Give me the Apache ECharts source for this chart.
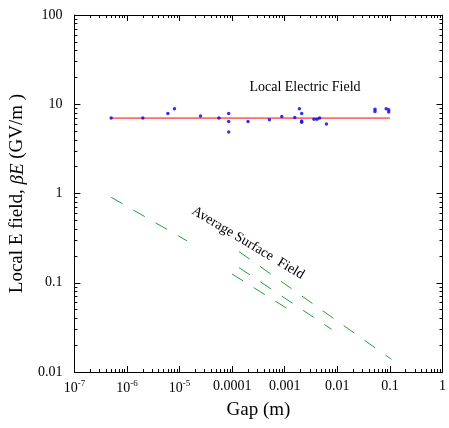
<!DOCTYPE html>
<html>
<head>
<meta charset="utf-8">
<script src="https://cdn.jsdelivr.net/npm/echarts@6/dist/echarts.min.js"></script>
<style>html,body{margin:0;padding:0;background:#fff;}#c{width:449px;height:428px;}</style>
</head>
<body>
<div id="c"></div>
<script>
// ---- data ----
var xTickLabels = ['10{s|-7}', '10{s|-6}', '10{s|-5}', '0.0001', '0.001', '0.01', '0.1', '1'];
var yTickLabels = ['0.01', '0.1', '1', '10', '100'];
var localFieldPoints = [
  [5e-7, 7.0], [2.0e-6, 7.0], [6e-6, 7.9], [8e-6, 8.9], [2.5e-5, 7.4], [5.6e-5, 7.0],
  [8.6e-5, 7.9], [8.6e-5, 6.4], [8.6e-5, 4.9], [2.0e-4, 6.4], [5.1e-4, 6.7], [8.8e-4, 7.3],
  [1.55e-3, 7.1], [1.9e-3, 8.9], [2.1e-3, 7.9], [2.1e-3, 6.5], [2.1e-3, 6.3], [3.6e-3, 6.8],
  [4.1e-3, 6.8], [4.6e-3, 7.0], [6.2e-3, 6.0], [0.052, 8.8], [0.052, 8.3], [0.085, 8.9],
  [0.095, 8.7], [0.095, 8.2]
];
var localFieldLine = [[5e-7, 7.0], [0.1, 7.0]];
var surfaceLine1 = [[5.02e-7, 0.906], [1.39e-5, 0.294]];
var surfaceLine2 = [[1.355e-4, 0.223], [0.107, 0.01387]];
var surfaceLine3 = [[1.355e-4, 0.1476], [7.76e-3, 0.0301]];
var surfaceLine4 = [[9.95e-5, 0.1253], [1.67e-3, 0.0442]];

// minor tick positions (log10 of 2..9 in each decade)
function minorTicks(lo, hi) {
  var out = [];
  for (var d = lo; d < hi; d++) for (var k = 2; k <= 9; k++) out.push(d + Math.log10(k));
  return out;
}
var FONT = 'Liberation Serif';
var BLACK = '#000';
var GREEN = '#1f9e3f';

var chart = echarts.init(document.getElementById('c'));
function logAxisX(pos, showLabel) {
  return {
    type: 'log', logBase: 10, position: pos, min: 1e-7, max: 1, interval: 1,
    gridIndex: 0,
    axisLine: { show: true, onZero: false, lineStyle: { color: BLACK, width: 1 } },
    axisTick: { show: true, inside: true, length: 6, lineStyle: { color: BLACK } },
    minorTick: { show: false },
    splitLine: { show: false },
    axisLabel: showLabel ? {
      show: true, margin: 7, color: BLACK, fontFamily: FONT, fontSize: 14,
      formatter: function (v) {
        var i = Math.round(Math.log10(v)) + 7;
        return xTickLabels[i];
      },
      rich: { s: { fontFamily: FONT, fontSize: 9, color: BLACK, padding: [0, 0, 10, 0] } }
    } : { show: false }
  };
}
function minorAxisX(pos) {
  return {
    type: 'value', position: pos, min: -7, max: 0, gridIndex: 0,
    axisLine: { show: false, onZero: false },
    axisTick: { show: true, inside: true, length: 3, customValues: minorTicks(-7, 0), lineStyle: { color: BLACK } },
    axisLabel: { show: false }, splitLine: { show: false }
  };
}
function logAxisY(pos, showLabel) {
  return {
    type: 'log', logBase: 10, position: pos, min: 0.01, max: 100, interval: 1,
    gridIndex: 0,
    axisLine: { show: true, onZero: false, lineStyle: { color: BLACK, width: 1 } },
    axisTick: { show: true, inside: true, length: 6, lineStyle: { color: BLACK } },
    minorTick: { show: false },
    splitLine: { show: false },
    axisLabel: showLabel ? {
      show: true, margin: 12, color: BLACK, fontFamily: FONT, fontSize: 14,
      formatter: function (v) {
        var i = Math.round(Math.log10(v)) + 2;
        return yTickLabels[i];
      }
    } : { show: false }
  };
}
function minorAxisY(pos) {
  return {
    type: 'value', position: pos, min: -2, max: 2, gridIndex: 0,
    axisLine: { show: false, onZero: false },
    axisTick: { show: true, inside: true, length: 3, customValues: minorTicks(-2, 2), lineStyle: { color: BLACK } },
    axisLabel: { show: false }, splitLine: { show: false }
  };
}

var xMain = logAxisX('bottom', true);
xMain.name = 'Gap (m)';
xMain.nameLocation = 'middle';
xMain.nameGap = 28;
xMain.nameTextStyle = { fontFamily: FONT, fontSize: 19, color: BLACK };
var yMain = logAxisY('left', true);
yMain.name = 'Local E field, {i|βE} (GV/m )';
yMain.nameLocation = 'middle';
yMain.nameGap = 30;
yMain.nameTextStyle = { fontFamily: FONT, fontSize: 19, color: BLACK,
  rich: { i: { fontFamily: FONT, fontSize: 19, fontStyle: 'italic', color: BLACK } } };

function dashed(data) {
  return {
    type: 'line', data: data, xAxisIndex: 0, yAxisIndex: 0, showSymbol: false, symbol: 'none',
    lineStyle: { color: GREEN, width: 1, type: [13, 12.6] }, silent: true, animation: false, z: 2
  };
}

chart.setOption({
  animation: false,
  grid: { left: 65, right: 2, top: 15, bottom: 56, containLabel: false },
  xAxis: [xMain, logAxisX('top', false), minorAxisX('bottom'), minorAxisX('top')],
  yAxis: [yMain, logAxisY('right', false), minorAxisY('left'), minorAxisY('right')],
  series: [
    { type: 'line', data: localFieldLine, xAxisIndex: 0, yAxisIndex: 0, symbol: 'none',
      lineStyle: { color: '#ff0000', width: 1 }, z: 2 },
    dashed(surfaceLine1), dashed(surfaceLine2), dashed(surfaceLine3), dashed(surfaceLine4),
    { type: 'scatter', data: localFieldPoints, xAxisIndex: 0, yAxisIndex: 0, symbol: 'circle',
      symbolSize: 3.5, itemStyle: { color: '#0000ee' }, z: 3 }
  ],
  graphic: [
    { type: 'text', x: 305, y: 87, style: { text: 'Local Electric Field', fontFamily: FONT, fontSize: 14,
      fill: BLACK, align: 'center', verticalAlign: 'middle' } },
    { type: 'text', x: 248, y: 243, rotation: -31 * Math.PI / 180,
      style: { text: 'Average Surface  Field', fontFamily: FONT, fontSize: 14,
      fill: BLACK, align: 'center', verticalAlign: 'middle' } }
  ]
});
</script>
</body>
</html>
